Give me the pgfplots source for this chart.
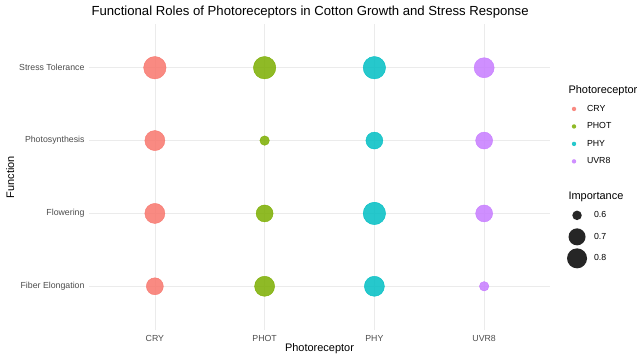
\documentclass[border=0pt]{standalone}
\usepackage{pgfplots}
\pgfplotsset{compat=1.18}
\usepackage{fontspec}
\setmainfont{Liberation Sans}
\definecolor{cryc}{HTML}{F8766D}
\definecolor{photc}{HTML}{7CAE00}
\definecolor{phyc}{HTML}{00BFC4}
\definecolor{uvrc}{HTML}{C77CFF}
\definecolor{gridc}{HTML}{EBEBEB}
\definecolor{tickc}{HTML}{4D4D4D}
\begin{document}
\begin{tikzpicture}
\useasboundingbox (0,0) rectangle (643bp,363bp);
\fill[white] (0,0) rectangle (643bp,363bp);
\pgfplotsset{
  bub/.style={scatter, only marks, mark=*, color=#1,
    mark options={draw=none, fill=#1, fill opacity=0.85},
    point meta={\thisrow{v}},
    scatter/use mapped color={draw=none, fill=#1, fill opacity=0.85},
    visualization depends on={4.75+6.5*sqrt(max((\thisrow{v}-0.6)/0.3,0)) \as \rad},
    scatter/@pre marker code/.append style={/tikz/mark size=\rad pt},
    legend image code/.code={\path[draw=none,fill=none] (0bp,-5bp) rectangle (21bp,5bp);\fill[draw=none,#1, fill opacity=0.85] (10bp,0bp) circle (2.2bp);}
  }
}
\begin{axis}[
  at={(89bp,33bp)}, anchor=south west,
  scale only axis, width=461bp, height=306bp,
  xmin=-0.6, xmax=3.6, ymin=-0.6, ymax=3.6,
  xtick={0,1,2,3}, xticklabels={CRY,PHOT,PHY,UVR8},
  ytick={0,1,2,3}, yticklabels={Fiber Elongation,Flowering,Photosynthesis,Stress Tolerance},
  axis line style={draw=none}, major tick length=0pt,
  grid=major, major grid style={gridc, line width=0.6bp},
  tick label style={font=\fontsize{8.8}{10}\selectfont, text=tickc},
  xticklabel style={yshift=-2bp},
  yticklabel style={xshift=-1bp},
  xlabel={Photoreceptor}, ylabel={Function},
  label style={font=\fontsize{11}{13}\selectfont},
  xlabel style={yshift=5bp},
  ylabel style={yshift=-2bp},
  clip=false,
  legend style={at={(1.03,0.742)}, anchor=north west, draw=none, fill=none,
    font=\fontsize{8.8}{10}\selectfont, row sep=5.9bp, inner sep=0pt,
    cells={anchor=west}},
  legend cell align=left,
]
\addplot[bub=cryc] table {
x y v
0 3 0.9
0 2 0.8
0 1 0.8
0 0 0.7
};
\addlegendentry{CRY}
\addplot[bub=photc] table {
x y v
1 3 0.9
1 2 0.6
1 1 0.7
1 0 0.8
};
\addlegendentry{PHOT}
\addplot[bub=phyc] table {
x y v
2 3 0.9
2 2 0.7
2 1 0.9
2 0 0.8
};
\addlegendentry{PHY}
\addplot[bub=uvrc] table {
x y v
3 3 0.8
3 2 0.7
3 1 0.7
3 0 0.6
};
\addlegendentry{UVR8}
\end{axis}
\begin{axis}[
  at={(89bp,33bp)}, anchor=south west,
  scale only axis, width=461bp, height=306bp, hide axis,
  xmin=0, xmax=1, ymin=0, ymax=1,
  legend style={at={(1.03,0.408)}, anchor=north west, draw=none, fill=none,
    font=\fontsize{8.8}{10}\selectfont, row sep=1.5bp, inner sep=0pt,
    cells={anchor=west}},
  legend cell align=left,
]
\addlegendimage{legend image code/.code={\path[draw=none,fill=none] (0bp,-10bp) rectangle (28bp,10bp);\fill[draw=none,black!85] (13bp,0bp) circle (4.75bp);}}
\addlegendentry{0.6}
\addlegendimage{legend image code/.code={\path[draw=none,fill=none] (0bp,-10bp) rectangle (28bp,10bp);\fill[draw=none,black!85] (13bp,0bp) circle (8.5bp);}}
\addlegendentry{0.7}
\addlegendimage{legend image code/.code={\path[draw=none,fill=none] (0bp,-10bp) rectangle (28bp,10bp);\fill[draw=none,black!85] (13bp,0bp) circle (10bp);}}
\addlegendentry{0.8}
\end{axis}
\node[anchor=base west, font=\fontsize{13.2}{15}\selectfont] at (88bp,347bp) {Functional Roles of Photoreceptors in Cotton Growth and Stress Response};
\node[anchor=base west, font=\fontsize{11}{13}\selectfont] at (565bp,269bp) {Photoreceptor};
\node[anchor=base west, font=\fontsize{11}{13}\selectfont] at (565bp,163bp) {Importance};
\end{tikzpicture}
\end{document}
